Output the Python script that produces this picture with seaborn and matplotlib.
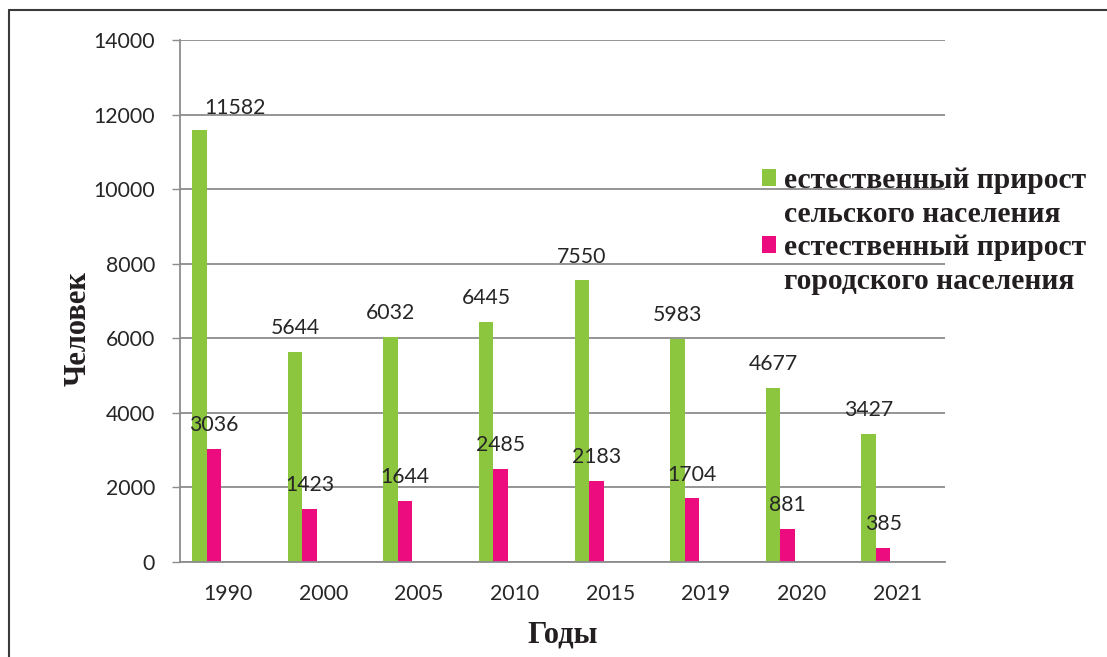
import numpy as np
import pandas as pd
import matplotlib
matplotlib.use("Agg")
import matplotlib.pyplot as plt
import seaborn as sns
from matplotlib.patches import Patch
from matplotlib.lines import Line2D
from matplotlib.font_manager import FontProperties

# ---- data ----
years = ["1990", "2000", "2005", "2010", "2015", "2019", "2020", "2021"]
rural = [11582, 5644, 6032, 6445, 7550, 5983, 4677, 3427]
urban = [3036, 1423, 1644, 2485, 2183, 1704, 881, 385]
series_lines = [["естественный прирост", "сельского населения"],
                ["естественный прирост", "городского населения"]]
series_names = [" ".join(s) for s in series_lines]
y_ticks = [0, 2000, 4000, 6000, 8000, 10000, 12000, 14000]
x_title = "Годы"
y_title = "Человек"

# ---- style ----
GREEN = "#8CC63F"
MAGENTA = "#EC0C80"
GRID = "#8C8C8C"
TXT = "#262626"
W, H = 1107, 657

df = pd.DataFrame({
    "year": years * 2,
    "value": rural + urban,
    "series": [series_names[0]] * len(years) + [series_names[1]] * len(years),
})

sns.set_theme(style="white")
plt.rcParams["font.family"] = ["Lato", "DejaVu Sans"]

fig = plt.figure(figsize=(W / 100, H / 100), dpi=100)
ax = fig.add_axes([180 / W, 95 / H, 765 / W, 522 / H])

sns.barplot(data=df, x="year", y="value", hue="series", order=years,
            hue_order=series_names, palette=[GREEN, MAGENTA], width=0.304,
            saturation=1, errorbar=None, legend=False, linewidth=0, ax=ax)

# category slots are shifted relative to the bar pairs (as in the original)
shift = 0.222
ax.set_xlim(-0.5 + shift, len(years) - 0.5 + shift)
ax.set_xticks(np.arange(len(years)) + shift, years)
ax.set_xticks([-0.5 + shift, 4.5 + shift], minor=True)
ax.tick_params(axis="x", which="major", length=0, pad=16, labelsize=15.3, labelcolor=TXT)
ax.tick_params(axis="x", which="minor", length=6, width=1, color=GRID, direction="out")

ax.set_ylim(0, 14000)
ax.set_yticks(y_ticks, [str(v) for v in y_ticks])
ax.tick_params(axis="y", length=6, width=1, color=GRID, direction="out", pad=12,
               labelsize=15.3, labelcolor=TXT, left=True)
ax.yaxis.grid(True, color=GRID, linewidth=1.3)
ax.set_axisbelow(True)

for side in ["top", "right"]:
    ax.spines[side].set_visible(False)
for side in ["left", "bottom"]:
    ax.spines[side].set_color(GRID)
    ax.spines[side].set_linewidth(1.3)

# data labels
for cont in ax.containers:
    anns = ax.bar_label(cont, padding=10, fontsize=15.3, color=TXT)
    if cont is ax.containers[0]:
        anns[0].xyann = (26, 9)

serif_bold = FontProperties(family="Liberation Serif", weight="bold", size=22)
ax.set_xlabel(x_title, fontproperties=serif_bold, color="#231F20")
ax.set_ylabel(y_title, fontproperties=serif_bold, color="#231F20")
ax.xaxis.set_label_coords(0.5, -0.113)
ax.yaxis.set_label_coords(-0.114, 0.448)

# legend (marker aligned with the first line of each entry)
handles, labels = [], []
for color, lines in zip([GREEN, MAGENTA], series_lines):
    handles.append(Patch(facecolor=color, edgecolor="none"))
    labels.append(lines[0])
    handles.append(Patch(facecolor="none", edgecolor="none"))
    labels.append(lines[1])
fig.legend(handles, labels, loc="upper left", bbox_to_anchor=(762 / W, 1 - 167 / H),
           frameon=False, prop=FontProperties(family="Liberation Serif", weight="bold", size=21.3),
           handlelength=0.48, handleheight=0.48, handletextpad=0.25,
           labelspacing=0.22, borderpad=0, borderaxespad=0, labelcolor="#231F20")

# outer frame (left and top edges)
fig.add_artist(Line2D([9 / W, 9 / W], [0, 1 - 10 / H], color="#3a3a3a", lw=1.5,
                      transform=fig.transFigure))
fig.add_artist(Line2D([9 / W, 1], [1 - 10 / H, 1 - 10 / H], color="#3a3a3a", lw=1.5,
                      transform=fig.transFigure))

fig.savefig("out.png", dpi=100, facecolor="white")
